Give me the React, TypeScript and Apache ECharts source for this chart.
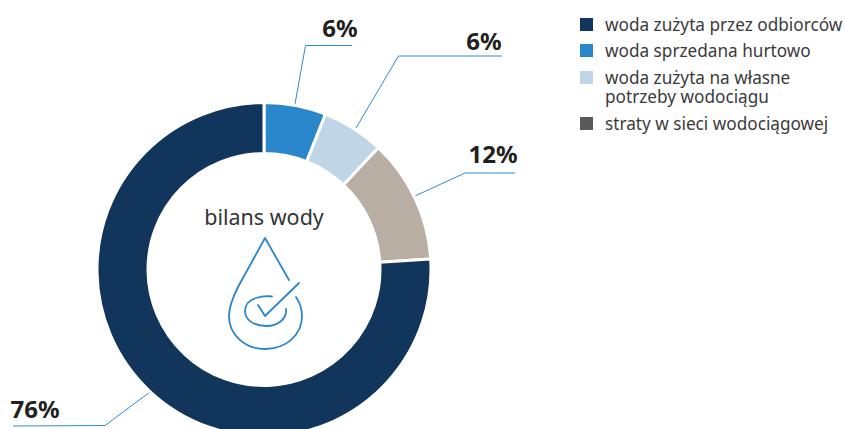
import React, { useEffect, useRef } from "react";
import * as echarts from "echarts";

// Water balance shares, clockwise from twelve o'clock
const sliceNames = [
  "woda sprzedana hurtowo",
  "woda zużyta na własne potrzeby wodociągu",
  "straty w sieci wodociągowej",
  "woda zużyta przez odbiorców",
];
const sliceValues = [6, 6, 12, 76];
const sliceColors = ["#2a86cb", "#c0d6e7", "#b9aea4", "#12355b"];

// Legend rows, top to bottom
const legendRows = [
  "woda zużyta przez odbiorców",
  "woda sprzedana hurtowo",
  "woda zużyta na własne\npotrzeby wodociągu",
  "straty w sieci wodociągowej",
];
const legendColors = ["#12355b", "#2a86cb", "#c0d6e7", "#58595b"];
const legendSwatchTop = [18, 44, 71, 117];
const legendTextTop = [14.5, 40.5, 67.5, 113.5];

const FONT = '"Noto Sans", sans-serif';
const LEADER = "#2f8bcf";

// Label anchor (centre of text) and leader polyline per slice
const labelCentres = [
  [340, 27],
  [484, 40],
  [493, 153],
  [35, 408],
];
const leaderPoints = [
  [[295, 104], [305.5, 45.5], [352, 45.5]],
  [[356, 128], [398.5, 56], [502, 56]],
  [[415, 196], [465, 173], [515, 173]],
  [[150, 392], [105, 425.5], [13, 426]],
];

const DROP_PATH =
  "M289 280 L265 238 L238 287 C232 299 229 308 229 316 C229 335 245 349 265 349 C286 349 302 335 302 316 C302 309 300 303 296 297";
const RING_PATH =
  "M272 296.5 C268 296 262 296 256 298 C249 300 245 305 245 311 C245 320 254 326 266 326 C278 326 287 319 286 309";
const TICK_PATH = "M258 305 L265 316 L299 283";

echarts.graphic.registerShape("dropOutline", echarts.graphic.extendPath(DROP_PATH, {}));
echarts.graphic.registerShape("dropRing", echarts.graphic.extendPath(RING_PATH, {}));
echarts.graphic.registerShape("dropTick", echarts.graphic.extendPath(TICK_PATH, {}));

export default function App() {
  const ref = useRef<HTMLDivElement>(null);

  useEffect(() => {
    const chart = echarts.init(ref.current!, undefined, { renderer: "svg" });

    const iconStyle = { fill: "none", stroke: "#2a86cb", lineWidth: 1.8, lineCap: "round", lineJoin: "round" };

    const legendGraphics: any[] = [];
    legendRows.forEach((label, i) => {
      legendGraphics.push({
        type: "rect",
        shape: { x: 580, y: legendSwatchTop[i], width: 13, height: 13 },
        style: { fill: legendColors[i] },
      });
      legendGraphics.push({
        type: "text",
        x: 605,
        y: legendTextTop[i],
        style: {
          text: label,
          font: `17.2px ${FONT}`,
          lineHeight: 19,
          fill: "#3a3a3c",
        },
      });
    });

    chart.setOption({
      animation: false,
      series: [
        {
          type: "pie",
          center: [264, 269.5],
          // the white slice border eats 1.5px of each radial edge
          radius: [116, 167],
          startAngle: 90,
          clockwise: true,
          silent: true,
          itemStyle: { borderColor: "#fff", borderWidth: 3 },
          data: sliceValues.map((value, i) => ({
            name: sliceNames[i],
            value,
            itemStyle: { color: sliceColors[i] },
          })),
          label: {
            show: true,
            formatter: "{c}%",
            fontFamily: FONT,
            fontWeight: "bold",
            fontSize: 24,
            color: "#231f20",
          },
          labelLine: {
            show: true,
            lineStyle: { color: LEADER, width: 1 },
          },
          labelLayout: (params: any) => ({
            x: labelCentres[params.dataIndex][0],
            y: labelCentres[params.dataIndex][1],
            align: "center",
            verticalAlign: "middle",
            labelLinePoints: leaderPoints[params.dataIndex],
          }),
        },
      ],
      graphic: [
        {
          type: "text",
          x: 264,
          y: 216,
          style: {
            text: "bilans wody",
            font: `21.5px ${FONT}`,
            fill: "#333335",
            textAlign: "center",
            textVerticalAlign: "middle",
          },
        },
        { type: "dropOutline", style: iconStyle },
        { type: "dropRing", style: iconStyle },
        { type: "dropTick", style: iconStyle },
        ...legendGraphics,
      ],
    });

    return () => chart.dispose();
  }, []);

  return <div ref={ref} style={{ position: "absolute", left: 0, top: 0, width: 845, height: 429, overflow: "hidden" }} />;
}
